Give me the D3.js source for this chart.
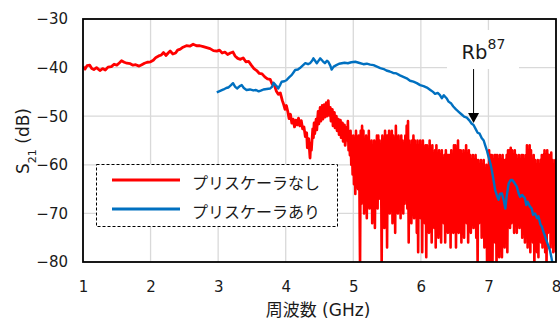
<!DOCTYPE html>
<html>
<head>
<meta charset="utf-8">
<script src="https://cdn.jsdelivr.net/npm/d3@7"></script>
<style>
  body { margin: 0; background: #fff; }
  text { font-family: "DejaVu Sans", "Noto Sans CJK JP", sans-serif; fill: #1a1a1a; }
</style>
</head>
<body>
<div id="chart"></div>
<script>
// tick labels / series names
const xTicks = [1, 2, 3, 4, 5, 6, 7, 8];
const yTicks = [-80, -70, -60, -50, -40, -30];
const seriesNames = ['プリスケーラなし', 'プリスケーラあり'];
const seriesColors = ['#ff0000', '#0070c0'];

// without prescaler: smoother part, [GHz, dB]
const redLow = [
  [1.00,-39.8],[1.03,-40.3],[1.06,-39.6],[1.10,-39.5],[1.13,-40.2],[1.16,-40.4],[1.20,-40.0],[1.25,-40.6],
  [1.29,-40.2],[1.33,-40.5],[1.37,-39.9],[1.42,-39.8],[1.46,-39.3],[1.50,-39.5],[1.54,-39.0],[1.57,-38.6],
  [1.61,-38.9],[1.65,-39.1],[1.70,-39.2],[1.74,-39.5],[1.78,-39.4],[1.83,-39.7],[1.87,-39.4],[1.91,-39.1],
  [1.95,-38.9],[2.00,-38.8],[2.04,-38.5],[2.08,-37.9],[2.12,-37.6],[2.16,-37.4],[2.19,-36.9],[2.23,-37.5],
  [2.26,-37.0],[2.29,-36.6],[2.33,-37.2],[2.37,-37.0],[2.40,-36.4],[2.44,-36.2],[2.48,-35.8],[2.53,-35.5],
  [2.58,-35.6],[2.63,-35.2],[2.68,-35.5],[2.73,-35.5],[2.78,-35.7],[2.83,-35.9],[2.88,-36.1],[2.93,-36.5],
  [2.98,-36.6],[3.02,-36.4],[3.06,-37.0],[3.10,-36.8],[3.14,-37.3],[3.18,-37.0],[3.22,-36.8],[3.25,-37.6],
  [3.29,-38.1],[3.33,-38.3],[3.37,-38.0],[3.41,-38.8],[3.45,-38.7],[3.49,-39.5],[3.53,-40.2],[3.57,-40.6],
  [3.61,-41.2],[3.65,-41.3],[3.69,-41.9],[3.73,-42.3],[3.77,-42.4],[3.80,-43.4],[3.83,-43.5],[3.86,-44.8],
  [3.89,-45.5],[3.92,-45.2],[3.95,-46.8],[3.97,-47.6],[3.99,-48.6],[4.01,-47.8],[4.03,-49.0],[4.05,-50.5],
  [4.07,-49.6],[4.09,-51.4],[4.11,-50.6],[4.13,-52.2],[4.15,-50.8],[4.17,-51.8],[4.19,-50.4],[4.21,-52.0],
  [4.23,-50.9],[4.25,-52.6],[4.27,-52.2],[4.29,-54.2],[4.31,-53.4],[4.32,-56.5],[4.34,-54.6],[4.36,-58.6],
  [4.37,-55.5],[4.38,-57.0],[4.40,-52.6],[4.41,-54.4],[4.42,-51.4],[4.43,-53.6],[4.45,-50.6],[4.46,-52.8],
  [4.48,-49.0],[4.49,-51.6],[4.51,-48.2],[4.52,-51.0],[4.54,-47.8],[4.55,-50.6],[4.57,-47.6],[4.58,-50.2],
  [4.60,-47.2],[4.61,-50.0],[4.63,-46.8],[4.64,-49.8],[4.66,-48.2],[4.67,-51.0],[4.69,-48.6],[4.70,-52.0],
  [4.72,-49.2],[4.73,-52.4],[4.75,-50.0],[4.76,-53.0],[4.78,-50.6],[4.79,-53.8],[4.81,-50.8],[4.82,-54.4],
  [4.84,-51.4],[4.85,-55.2],[4.87,-51.8],[4.88,-56.0]
];

// without prescaler: noisy part, one value every 0.01 GHz from 4.90 to 8.00
const redNoiseStart = 4.90;
const redNoiseStep = 0.01;
const redNoise = [
  -52,-55,-51,-57,-54,-58,-53,-60,-55,-62,
  -54,-64,-55,-66,-53,-61,-56,-65,-54,-63,
  -81,-53,-68,-52,-66,-53,-70,-55,-67,-54,
  -71,-55,-66,-53,-69,-56,-65,-55,-72,-56,
  -67,-55,-73,-56,-65,-54,-69,-54,-67,-55,
  -64,-56,-81,-54,-68,-55,-73,-53,-66,-54,
  -77,-54,-67,-53,-70,-55,-66,-53,-72,-54,
  -69,-55,-74,-52,-66,-55,-70,-54,-67,-56,
  -71,-54,-66,-55,-70,-56,-68,-54,-67,-52,
  -69,-51,-76,-55,-66,-56,-72,-55,-68,-54,
  -71,-55,-69,-56,-74,-55,-78,-56,-68,-55,
  -71,-56,-78,-55,-67,-57,-72,-56,-79,-56,
  -69,-57,-74,-55,-71,-57,-76,-56,-70,-58,
  -73,-57,-77,-56,-69,-58,-75,-57,-71,-58,
  -76,-57,-70,-59,-72,-58,-76,-57,-71,-58,
  -74,-58,-70,-58,-77,-57,-72,-59,-74,-56,
  -72,-56,-77,-57,-71,-55,-74,-57,-70,-57,
  -76,-58,-71,-57,-75,-58,-70,-56,-72,-58,
  -76,-57,-71,-58,-74,-59,-70,-58,-73,-59,
  -71,-58,-75,-59,-81,-59,-72,-60,-71,-59,
  -75,-60,-72,-59,-77,-61,-73,-60,-81,-61,
  -72,-57,-81,-58,-75,-58,-81,-59,-72,-58,
  -76,-58,-81,-58,-74,-59,-79,-58,-73,-59,
  -79,-58,-71,-59,-77,-59,-72,-58,-78,-57,
  -70,-57,-73,-56.5,-72,-57,-70,-58,-74,-57,
  -71,-58,-74,-59,-72,-58,-73,-59,-71,-58,
  -75,-58,-72,-59,-76,-58,-73,-56,-77,-57,
  -72,-56,-78,-57,-73,-59,-76,-58,-81,-59,
  -74,-60,-78,-59,-79,-60,-73,-59,-76,-58,
  -77,-58,-73,-57,-78,-58,-81,-57,-74,-58,
  -73,-58,-77,-57.5,-76,-59,-78,-60,-74,-59,
  -78
];

// with prescaler, [GHz, dB]
const blue = [
  [2.98,-45.1],[3.03,-44.8],[3.08,-44.5],[3.12,-44.2],[3.15,-44.1],[3.19,-43.6],[3.22,-43.2],[3.25,-43.9],
  [3.28,-44.3],[3.32,-43.8],[3.35,-43.6],[3.38,-44.2],[3.42,-44.6],[3.47,-44.5],[3.52,-44.7],[3.56,-44.6],
  [3.60,-44.9],[3.64,-44.7],[3.67,-44.5],[3.72,-44.4],[3.77,-44.3],[3.80,-43.9],[3.82,-43.1],[3.85,-43.6],
  [3.87,-43.9],[3.89,-44.3],[3.92,-43.5],[3.94,-42.9],[3.98,-42.8],[4.01,-42.6],[4.05,-42.0],[4.09,-41.5],
  [4.12,-40.9],[4.14,-40.5],[4.18,-40.4],[4.21,-40.1],[4.25,-39.6],[4.29,-39.1],[4.33,-39.3],[4.36,-39.1],
  [4.39,-38.6],[4.41,-38.1],[4.44,-38.7],[4.46,-39.1],[4.49,-38.5],[4.51,-38.1],[4.55,-38.7],[4.58,-39.1],
  [4.61,-38.6],[4.63,-38.8],[4.66,-39.6],[4.68,-40.4],[4.71,-39.8],[4.75,-39.5],[4.79,-39.2],[4.83,-39.1],
  [4.87,-39.0],[4.92,-39.1],[4.97,-38.9],[5.03,-38.8],[5.08,-39.0],[5.15,-39.3],[5.20,-39.2],[5.25,-39.4],
  [5.30,-39.5],[5.35,-39.8],[5.40,-40.1],[5.45,-40.3],[5.49,-40.6],[5.54,-40.8],[5.59,-41.1],[5.64,-41.2],
  [5.69,-41.6],[5.74,-41.9],[5.79,-42.2],[5.84,-42.7],[5.89,-42.9],[5.94,-43.2],[5.99,-43.6],[6.04,-43.8],
  [6.09,-44.1],[6.14,-44.6],[6.18,-45.0],[6.21,-45.4],[6.25,-45.2],[6.28,-45.6],[6.31,-46.3],[6.34,-45.7],
  [6.38,-46.3],[6.41,-47.0],[6.45,-47.4],[6.48,-48.0],[6.52,-48.6],[6.56,-49.1],[6.60,-49.6],[6.64,-50.1],
  [6.68,-50.3],[6.72,-50.9],[6.75,-51.5],[6.78,-51.8],[6.81,-52.6],[6.84,-53.4],[6.87,-53.6],[6.90,-54.5],
  [6.93,-55.0],[6.95,-55.9],[6.98,-57.2],[7.00,-58.3],[7.03,-59.8],[7.05,-61.1],[7.08,-63.5],[7.10,-65.2],
  [7.13,-66.5],[7.15,-67.2],[7.17,-66.0],[7.20,-65.9],[7.23,-67.5],[7.25,-69.0],[7.27,-66.5],[7.30,-63.8],
  [7.33,-63.1],[7.35,-63.1],[7.38,-63.6],[7.42,-64.5],[7.45,-66.0],[7.47,-66.6],[7.50,-66.2],[7.54,-66.9],
  [7.56,-68.3],[7.58,-67.6],[7.61,-68.5],[7.64,-69.0],[7.66,-70.3],[7.69,-70.0],[7.72,-71.0],[7.74,-70.6],
  [7.77,-72.3],[7.79,-72.7],[7.82,-74.0],[7.84,-74.8],[7.87,-76.0],[7.89,-76.8],[7.91,-77.6],[7.93,-78.9],
  [7.95,-80.5]
];

// Rb87 marker arrow
const markerGHz = 6.78;
const markerFrom = -40.3;
const markerTo = -51.4;

const width = 560, height = 324;
const margin = {top: 19, right: 4, bottom: 62, left: 83};

const svg = d3.select('#chart').append('svg')
  .attr('width', width)
  .attr('height', height);

const x = d3.scaleLinear().domain([1, 8]).range([margin.left, width - margin.right]);
const y = d3.scaleLinear().domain([-80, -30]).range([height - margin.bottom, margin.top]);

// gridlines
svg.append('g')
  .selectAll('line')
  .data(xTicks.slice(1, -1))
  .join('line')
  .attr('x1', d => x(d)).attr('x2', d => x(d))
  .attr('y1', y(-30)).attr('y2', y(-80))
  .attr('stroke', '#d9d9d9').attr('stroke-width', 1.3);

svg.append('g')
  .selectAll('line')
  .data(yTicks.slice(1, -1))
  .join('line')
  .attr('x1', x(1)).attr('x2', x(8))
  .attr('y1', d => y(d)).attr('y2', d => y(d))
  .attr('stroke', '#d9d9d9').attr('stroke-width', 1.3);

svg.append('clipPath').attr('id', 'plot')
  .append('rect')
  .attr('x', x(1)).attr('y', y(-30))
  .attr('width', x(8) - x(1)).attr('height', y(-80) - y(-30));

const redNoisePts = redNoise.map((v, i) => [redNoiseStart + i * redNoiseStep, v]);

const line = d3.line().x(d => x(d[0])).y(d => y(d[1]));

const plot = svg.append('g').attr('clip-path', 'url(#plot)');
plot.append('path')
  .datum(redLow.concat(redNoisePts.slice(0, 1)))
  .attr('d', line)
  .attr('fill', 'none')
  .attr('stroke', seriesColors[0])
  .attr('stroke-width', 2.8)
  .attr('stroke-linejoin', 'round');
plot.append('path')
  .datum(redNoisePts)
  .attr('d', line)
  .attr('fill', 'none')
  .attr('stroke', seriesColors[0])
  .attr('stroke-width', 2.6)
  .attr('stroke-linejoin', 'round');

plot.append('path')
  .datum(blue)
  .attr('d', line)
  .attr('fill', 'none')
  .attr('stroke', seriesColors[1])
  .attr('stroke-width', 2.4)
  .attr('stroke-linejoin', 'round');

// frame
svg.append('rect')
  .attr('x', x(1)).attr('y', y(-30))
  .attr('width', x(8) - x(1)).attr('height', y(-80) - y(-30))
  .attr('fill', 'none')
  .attr('stroke', '#000')
  .attr('stroke-width', 1.8);

// axes
const xAxis = svg.append('g')
  .attr('transform', `translate(0,${y(-80)})`)
  .call(d3.axisBottom(x).tickValues(xTicks).tickSize(0).tickPadding(19).tickFormat(d3.format('d')));
const yAxis = svg.append('g')
  .attr('transform', `translate(${x(1)},0)`)
  .call(d3.axisLeft(y).tickValues(yTicks).tickSize(0).tickPadding(15).tickFormat(d3.format('d')));
[xAxis, yAxis].forEach(a => {
  a.select('.domain').remove();
  a.selectAll('text')
    .style('font-family', '"DejaVu Sans", sans-serif')
    .style('font-size', '15px')
    .attr('fill', '#1a1a1a');
});

// axis titles
svg.append('text')
  .attr('x', 318).attr('y', 316)
  .attr('text-anchor', 'middle')
  .style('font-size', '17px')
  .text('周波数 (GHz)');

const yt = svg.append('text')
  .attr('transform', 'translate(29,141) rotate(-90)')
  .attr('text-anchor', 'middle')
  .style('font-size', '17px');
yt.append('tspan').text('S');
yt.append('tspan').attr('baseline-shift', 'sub').style('font-size', '11px').text('21');
yt.append('tspan').text(' (dB)');

// Rb87 label with white backing
svg.append('rect')
  .attr('x', 447).attr('y', 30)
  .attr('width', 72).attr('height', 39)
  .attr('fill', '#fff');
const rb = svg.append('text')
  .attr('x', x(markerGHz) - 12).attr('y', 58.5)
  .style('font-size', '19.5px');
rb.append('tspan').text('Rb');
rb.append('tspan').attr('dy', -10).style('font-size', '14px').text('87');

const ax = x(markerGHz);
svg.append('line')
  .attr('x1', ax).attr('x2', ax)
  .attr('y1', y(markerFrom)).attr('y2', y(markerTo) - 9)
  .attr('stroke', '#000').attr('stroke-width', 1);
svg.append('path')
  .attr('d', `M${ax - 5.5},${y(markerTo) - 10} L${ax + 5.5},${y(markerTo) - 10} L${ax},${y(markerTo)} Z`)
  .attr('fill', '#000');

// legend
const lg = svg.append('g');
lg.append('rect')
  .attr('x', 96.5).attr('y', 164.5)
  .attr('width', 241).attr('height', 62)
  .attr('fill', '#fff')
  .attr('stroke', '#000')
  .attr('stroke-width', 1)
  .attr('stroke-dasharray', '3,2');
seriesNames.forEach((name, i) => {
  const ly = 180 + i * 29;
  lg.append('line')
    .attr('x1', 112).attr('x2', 180)
    .attr('y1', ly).attr('y2', ly)
    .attr('stroke', seriesColors[i])
    .attr('stroke-width', 3);
  lg.append('text')
    .attr('x', 192).attr('y', ly + 2)
    .attr('dominant-baseline', 'central')
    .style('font-family', '"Noto Sans CJK JP", sans-serif')
    .style('font-size', '16px')
    .text(name);
});
</script>
</body>
</html>
